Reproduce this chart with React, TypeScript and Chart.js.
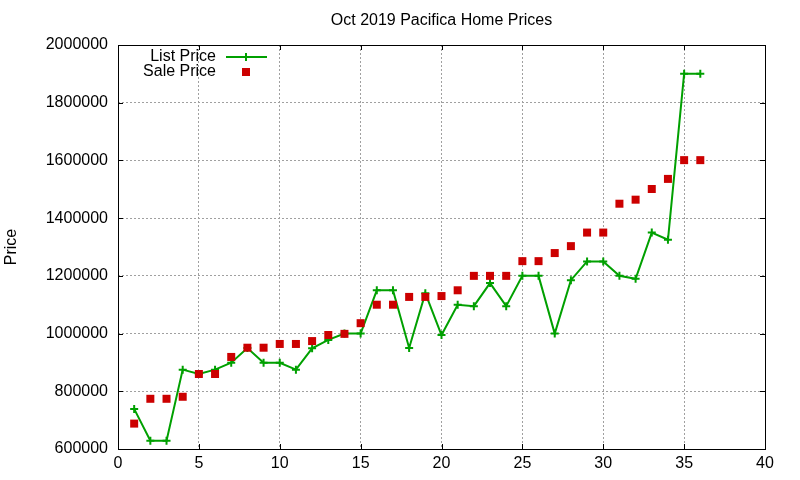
import React, { useEffect, useRef } from 'react';
import Chart from 'chart.js/auto';

const listing = [1, 2, 3, 4, 5, 6, 7, 8, 9, 10, 11, 12, 13, 14, 15, 16, 17, 18, 19, 20, 21, 22, 23, 24, 25, 26, 27, 28, 29, 30, 31, 32, 33, 34, 35, 36];

const listPrice = [
  739000, 629000, 629000, 875000, 860000, 875000, 899000, 950000, 899000, 899000,
  875000, 949000, 978000, 1000000, 1000000, 1150000, 1150000, 950000, 1140000, 995000,
  1100000, 1095000, 1175000, 1095000, 1200000, 1200000, 1000000, 1185000, 1250000, 1250000,
  1200000, 1190000, 1350000, 1325000, 1900000, 1900000,
];

const salePrice = [
  688000, 774000, 774000, 781000, 860000, 860000, 919000, 951000, 951000, 964000,
  964000, 974000, 995000, 999000, 1036000, 1100000, 1100000, 1127000, 1127000, 1130000,
  1150000, 1200000, 1200000, 1200000, 1251000, 1251000, 1279000, 1303000, 1350000, 1350000,
  1450000, 1464000, 1501000, 1536000, 1601000, 1601000,
];

const FONT = '"Liberation Sans", Arial, sans-serif';
const GREEN = '#00a000';
const RED = '#cc0000';

// gnuplot look: title, y label, key, closed border with inward ticks
const gnuplotDecor = {
  id: 'gnuplotDecor',
  afterDraw(chart: any) {
    const { ctx, chartArea } = chart;
    const { left, right, top, bottom } = chartArea;
    ctx.save();

    ctx.strokeStyle = '#000';
    ctx.lineWidth = 1;
    ctx.strokeRect(Math.round(left) + 0.5, Math.round(top) + 0.5, Math.round(right - left), Math.round(bottom - top));

    const xs = chart.scales.x;
    const ys = chart.scales.y;
    ctx.beginPath();
    xs.ticks.forEach((t: any) => {
      const px = Math.round(xs.getPixelForValue(t.value)) + 0.5;
      ctx.moveTo(px, bottom);
      ctx.lineTo(px, bottom - 5);
      ctx.moveTo(px, top);
      ctx.lineTo(px, top + 5);
    });
    ys.ticks.forEach((t: any) => {
      const py = Math.round(ys.getPixelForValue(t.value)) + 0.5;
      ctx.moveTo(left, py);
      ctx.lineTo(left + 5, py);
      ctx.moveTo(right, py);
      ctx.lineTo(right - 5, py);
    });
    ctx.stroke();

    ctx.fillStyle = '#000';
    ctx.font = `16px ${FONT}`;
    ctx.textAlign = 'center';
    ctx.textBaseline = 'middle';
    ctx.fillText('Oct 2019 Pacifica Home Prices', (left + right) / 2, 21);

    ctx.save();
    ctx.translate(12, (top + bottom) / 2);
    ctx.rotate(-Math.PI / 2);
    ctx.fillText('Price', 0, 0);
    ctx.restore();

    // key
    ctx.textAlign = 'right';
    ctx.fillText('List Price', 216, 57);
    ctx.fillText('Sale Price', 216, 72);

    ctx.strokeStyle = GREEN;
    ctx.lineWidth = 2;
    ctx.beginPath();
    ctx.moveTo(226, 57);
    ctx.lineTo(267, 57);
    ctx.moveTo(246, 53);
    ctx.lineTo(246, 61);
    ctx.stroke();

    ctx.fillStyle = RED;
    ctx.fillRect(242, 68, 8, 8);

    ctx.restore();
  },
};

const App: React.FC = () => {
  const chartRef = useRef<HTMLCanvasElement>(null);
  const chartInstance = useRef<Chart | null>(null);

  useEffect(() => {
    document.body.style.margin = '0';
    if (!chartRef.current) return;
    if (chartInstance.current) chartInstance.current.destroy();

    const ctx = chartRef.current.getContext('2d');
    if (!ctx) return;

    chartInstance.current = new Chart(ctx, {
      type: 'scatter',
      data: {
        datasets: [
          {
            label: 'List Price',
            data: listing.map((n, i) => ({ x: n, y: listPrice[i] })),
            showLine: true,
            borderColor: GREEN,
            backgroundColor: GREEN,
            borderWidth: 2,
            pointStyle: 'cross',
            pointRadius: 4,
            pointBorderWidth: 2,
            pointBorderColor: GREEN,
            order: 2,
          },
          {
            label: 'Sale Price',
            data: listing.map((n, i) => ({ x: n, y: salePrice[i] })),
            showLine: false,
            backgroundColor: RED,
            borderColor: RED,
            pointStyle: 'rect',
            pointRadius: 5.66,
            pointBorderWidth: 0,
            order: 1,
          },
        ],
      },
      options: {
        responsive: false,
        animation: false,
        events: [],
        layout: { padding: { left: 0, top: 45, right: 35, bottom: 0 } },
        plugins: {
          legend: { display: false },
          title: { display: false },
          tooltip: { enabled: false },
        },
        scales: {
          x: {
            type: 'linear',
            min: 0,
            max: 40,
            afterFit: (scale: any) => {
              scale.height = 31;
            },
            grid: { color: '#a0a0a0', lineWidth: 1, drawTicks: false },
            border: { display: false, dash: [2, 2] },
            ticks: {
              stepSize: 5,
              color: '#000',
              padding: 5,
              font: { family: FONT, size: 16 },
            },
          },
          y: {
            type: 'linear',
            min: 600000,
            max: 2000000,
            afterFit: (scale: any) => {
              scale.width = 118;
            },
            grid: { color: '#a0a0a0', lineWidth: 1, drawTicks: false },
            border: { display: false, dash: [2, 2] },
            ticks: {
              stepSize: 200000,
              color: '#000',
              padding: 10,
              font: { family: FONT, size: 16 },
              callback: (value: any) => String(value),
            },
          },
        },
      },
      plugins: [gnuplotDecor],
    });

    return () => {
      if (chartInstance.current) {
        chartInstance.current.destroy();
        chartInstance.current = null;
      }
    };
  }, []);

  return (
    <div style={{ width: '800px', height: '480px', background: '#fff' }}>
      <canvas ref={chartRef} width={800} height={480} />
    </div>
  );
};

export default App;
